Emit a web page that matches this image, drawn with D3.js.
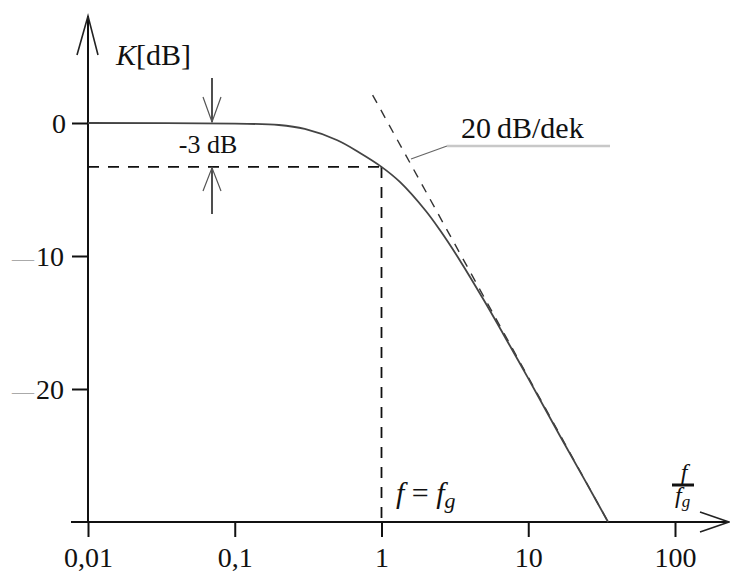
<!DOCTYPE html>
<html lang="en">
<head>
<meta charset="utf-8">
<title>K[dB] vs f/fg</title>
<style>
  body { margin: 0; background: #fff; }
  svg text { fill: #111; }
</style>
</head>
<body>
<div id="container"></div>
<script src="https://cdnjs.cloudflare.com/ajax/libs/d3/7.8.5/d3.min.js"></script>
<script>
// frequency response (f / fg, K in dB)
var freq = [0.01, 0.1, 0.2, 0.3, 0.5, 0.7, 1, 1.34, 2, 2.5, 3.43, 5, 7.5, 10, 16.5, 25, 35];
var gain = [0, -0.05, -0.15, -0.45, -1.3, -2.2, -3.3, -4.45, -6.6, -8.05, -10.35, -13.35, -16.75, -19.2, -23.55, -27.1, -30];
// 20 dB/dek asymptote, two end points
var asymF = [0.87, 35];
var asymK = [2.1, -30];
var cutoffK = -3.3;
var xTicks = [0.01, 0.1, 1, 10, 100];
var xLabels = ["0,01", "0,1", "1", "10", "100"];
var yTicks = [0, -10, -20];
var yLabels = ["0", "10", "20"];

var w = 730, h = 574;
var serif = "'Liberation Serif', LiberationSerif, Tinos, 'Times New Roman', Times, 'Nimbus Roman', 'DejaVu Serif', 'Noto Serif', FreeSerif, serif";

var x = d3.scaleLog().domain([0.01, 100]).range([88, 675]);
var y = d3.scaleLinear().domain([-30, 0]).range([522, 123]);

var svg = d3.select("#container").append("svg")
  .attr("width", w)
  .attr("height", h)
  .style("font-family", serif);

// axis lines with open arrow heads
svg.append("line").attr("x1", 71).attr("x2", 728).attr("y1", y(-30)).attr("y2", y(-30))
  .attr("stroke", "#111").attr("stroke-width", 2);
svg.append("line").attr("x1", x(0.01)).attr("x2", x(0.01)).attr("y1", 16).attr("y2", y(-30))
  .attr("stroke", "#111").attr("stroke-width", 2);
svg.append("polyline").attr("points", "77,55 " + x(0.01) + ",16 98,55")
  .attr("fill", "none").attr("stroke", "#222").attr("stroke-width", 1.6);
svg.append("polyline").attr("points", "700,512 729,522 700,532")
  .attr("fill", "none").attr("stroke", "#222").attr("stroke-width", 1.6);

var xAxis = d3.axisBottom(x)
  .tickValues(xTicks)
  .tickFormat(function(d, i) { return xLabels[i]; })
  .tickSize(15)
  .tickSizeOuter(0)
  .tickPadding(10);

var gx = svg.append("g")
  .attr("transform", "translate(0," + y(-30) + ")")
  .call(xAxis)
  .attr("font-family", null)
  .attr("font-size", 28);
gx.select(".domain").remove();
gx.selectAll(".tick line").attr("stroke", "#111").attr("stroke-width", 2);
gx.selectAll(".tick text").attr("fill", "#111");

var yAxis = d3.axisLeft(y)
  .tickValues(yTicks)
  .tickFormat("")
  .tickSize(16)
  .tickSizeOuter(0);

var gy = svg.append("g")
  .attr("transform", "translate(" + x(0.01) + ",0)")
  .call(yAxis);
gy.select(".domain").remove();
gy.selectAll(".tick line").attr("stroke", "#111").attr("stroke-width", 2);

var yl = svg.selectAll(".ylab")
  .data(yTicks)
  .enter()
  .append("text")
  .attr("class", "ylab")
  .attr("x", 64)
  .attr("y", function(d) { return y(d) + 10; })
  .attr("text-anchor", "end")
  .attr("font-size", 28);
yl.each(function(d, i) {
  var t = d3.select(this);
  if (d < 0) t.append("tspan").attr("fill", "#aaa").attr("font-size", 22).text("\u2014");
  t.append("tspan").attr("dx", 2).text(yLabels[i]);
});

// axis title
var kt = svg.append("text").attr("x", 116).attr("y", 65).attr("font-size", 30);
kt.append("tspan").attr("font-style", "italic").text("K");
kt.append("tspan").text("[dB]");

// -3 dB guides
svg.append("line")
  .attr("x1", x(0.01)).attr("x2", x(1))
  .attr("y1", y(cutoffK)).attr("y2", y(cutoffK))
  .attr("stroke", "#111").attr("stroke-width", 1.8).attr("stroke-dasharray", "11,9");
svg.append("line")
  .attr("x1", x(1)).attr("x2", x(1))
  .attr("y1", y(cutoffK)).attr("y2", y(-30))
  .attr("stroke", "#111").attr("stroke-width", 1.8).attr("stroke-dasharray", "11,9");

// asymptote
svg.append("path")
  .datum(asymF.map(function(f, i) { return [f, asymK[i]]; }))
  .attr("d", d3.line().x(function(d) { return x(d[0]); }).y(function(d) { return y(d[1]); }))
  .attr("fill", "none")
  .attr("stroke", "#333")
  .attr("stroke-width", 1.4)
  .attr("stroke-dasharray", "9,8");

// response curve
var line = d3.line()
  .x(function(d) { return x(d[0]); })
  .y(function(d) { return y(d[1]); })
  .curve(d3.curveCatmullRom.alpha(0.5));

svg.append("path")
  .datum(freq.map(function(f, i) { return [f, gain[i]]; }))
  .attr("d", line)
  .attr("fill", "none")
  .attr("stroke", "#444")
  .attr("stroke-width", 1.8);

// -3 dB arrows
var ax = 212;
svg.append("line").attr("x1", ax).attr("x2", ax).attr("y1", 78).attr("y2", y(0) - 1)
  .attr("stroke", "#222").attr("stroke-width", 1.6);
svg.append("polyline").attr("points", (ax - 9) + ",97 " + ax + "," + (y(0) - 1) + " " + (ax + 9) + ",97")
  .attr("fill", "none").attr("stroke", "#555").attr("stroke-width", 1.2);
svg.append("line").attr("x1", ax).attr("x2", ax).attr("y1", y(cutoffK) + 1).attr("y2", 214)
  .attr("stroke", "#222").attr("stroke-width", 1.6);
svg.append("polyline").attr("points", (ax - 9) + ",191 " + ax + "," + (y(cutoffK) + 1) + " " + (ax + 9) + ",191")
  .attr("fill", "none").attr("stroke", "#555").attr("stroke-width", 1.2);
svg.append("text").attr("x", ax - 4).attr("y", 153).attr("text-anchor", "middle")
  .attr("font-size", 26).text("-3 dB");

// slope label with leader
svg.append("polyline").attr("points", "411,159 447,146")
  .attr("fill", "none").attr("stroke", "#666").attr("stroke-width", 1.2);
svg.append("line").attr("x1", 447).attr("x2", 610).attr("y1", 146).attr("y2", 146)
  .attr("stroke", "#c8c8c8").attr("stroke-width", 2.5);
svg.append("text").attr("x", 461).attr("y", 138).attr("font-size", 30).text("20\u2009dB/dek");

// f = fg
var fl = svg.append("text").attr("x", 396).attr("y", 503).attr("font-size", 30);
fl.append("tspan").attr("font-style", "italic").text("f");
fl.append("tspan").text(" = ");
fl.append("tspan").attr("font-style", "italic").text("f");
fl.append("tspan").attr("font-style", "italic").attr("font-size", 22).attr("dy", 5).text("g");

// f / fg on x axis end
svg.append("text").attr("x", 684).attr("y", 480).attr("text-anchor", "middle")
  .attr("font-size", 24).attr("font-style", "italic").text("f");
svg.append("line").attr("x1", 672).attr("x2", 694).attr("y1", 485).attr("y2", 485)
  .attr("stroke", "#111").attr("stroke-width", 3);
var fg = svg.append("text").attr("x", 675).attr("y", 503).attr("font-size", 24).attr("font-style", "italic");
fg.append("tspan").text("f");
fg.append("tspan").attr("font-size", 17).attr("dy", 4).text("g");
</script>
</body>
</html>
